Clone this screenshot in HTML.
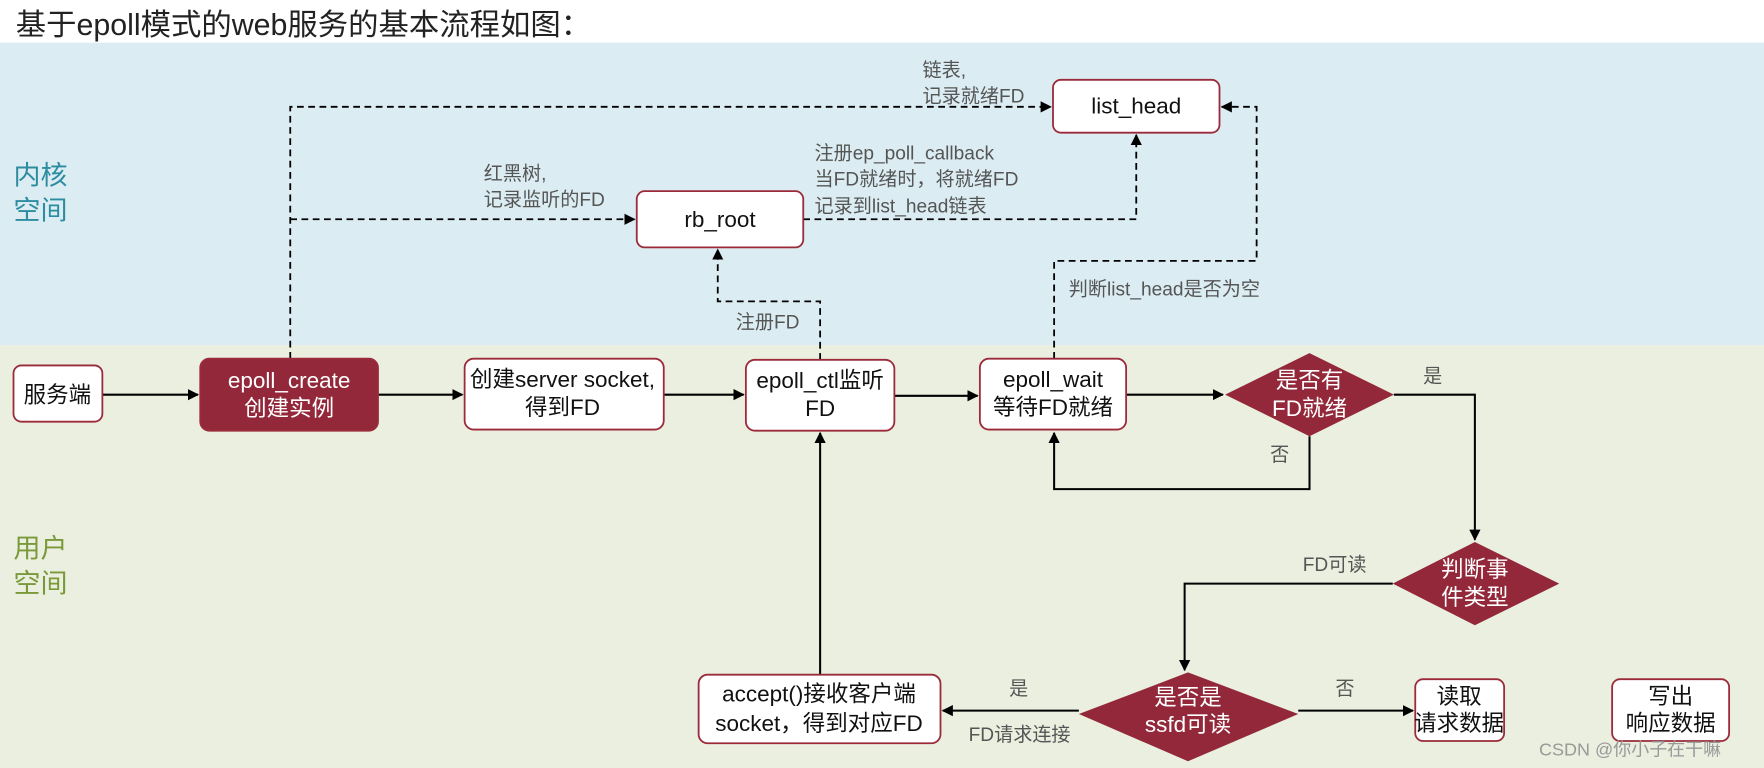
<!DOCTYPE html>
<html><head><meta charset="utf-8"><style>
html,body{margin:0;padding:0;background:#fff;}
svg{display:block;}
text{font-family:"Liberation Sans","Noto Sans CJK SC",sans-serif;}
</style></head><body>
<svg width="1764" height="768" viewBox="0 0 1568 683" preserveAspectRatio="none" xmlns="http://www.w3.org/2000/svg">
<defs>
<marker id="a" markerWidth="10" markerHeight="10" refX="9" refY="5" orient="auto" markerUnits="userSpaceOnUse"><path d="M0,0 L10,5 L0,10 z" fill="#000"/></marker>
</defs>
<rect x="0" y="0" width="1568" height="38" fill="#fff"/>
<rect x="0" y="38" width="1568" height="269" fill="#dbedf3"/>
<rect x="0" y="307" width="1568" height="376" fill="#ebefdf"/>
<text x="14" y="31" font-size="27" fill="#222">基于epoll模式的web服务的基本流程如图：</text>
<g font-size="24" fill="#2e8ca0"><text x="12" y="164">内核</text><text x="12" y="195">空间</text></g>
<g font-size="24" fill="#7a9a3a"><text x="12" y="496">用户</text><text x="12" y="527">空间</text></g>

<g fill="none" stroke="#000" stroke-width="1.6" stroke-dasharray="6,4">
<path d="M258,319 V95 H934" marker-end="url(#a)"/>
<path d="M258,195 H564" marker-end="url(#a)"/>
<path d="M714,195 H1010 V120" marker-end="url(#a)"/>
<path d="M729,320 V268 H638 V222" marker-end="url(#a)"/>
<path d="M937,319 V232 H1117 V95 H1086" marker-end="url(#a)"/>
</g>
<g fill="none" stroke="#000" stroke-width="1.8">
<path d="M91,351 H176" marker-end="url(#a)"/>
<path d="M336,351 H411" marker-end="url(#a)"/>
<path d="M590,351 H661" marker-end="url(#a)"/>
<path d="M795,352 H869" marker-end="url(#a)"/>
<path d="M1001,351 H1087" marker-end="url(#a)"/>
<path d="M1164,388 V435 H937 V385" marker-end="url(#a)"/>
<path d="M1239,351 H1311 V480" marker-end="url(#a)"/>
<path d="M1238,519 H1053 V596" marker-end="url(#a)"/>
<path d="M959,632 H838" marker-end="url(#a)"/>
<path d="M1154,632 H1256" marker-end="url(#a)"/>
<path d="M729,600 V385" marker-end="url(#a)"/>
</g>

<g stroke="#9b2a3a" stroke-width="1.6" fill="#fff">
<rect x="12" y="325" width="79" height="50" rx="7"/>
<rect x="178" y="319" width="158" height="64" rx="8" fill="#93283a"/>
<rect x="413" y="319" width="177" height="63" rx="8"/>
<rect x="663" y="320" width="132" height="63" rx="8"/>
<rect x="871" y="319" width="130" height="63" rx="8"/>
<rect x="566" y="170" width="148" height="50" rx="7"/>
<rect x="936" y="71" width="148" height="47" rx="7"/>
<rect x="621" y="600" width="215" height="61" rx="8"/>
<rect x="1258" y="604" width="79" height="55" rx="7"/>
<rect x="1433" y="604" width="104" height="55" rx="7"/>
</g>
<g fill="#93283a">
<polygon points="1089,351 1164,314 1239,351 1164,388"/>
<polygon points="1238,519 1311,482 1386,519 1311,556"/>
<polygon points="959,635 1056,598 1154,635 1056,677"/>
</g>

<g font-size="20" text-anchor="middle" fill="#111">
<text x="51" y="358">服务端</text>
<text x="257" y="345" fill="#fff">epoll_create</text><text x="257" y="370" fill="#fff">创建实例</text>
<text x="500" y="344">创建server socket,</text><text x="500" y="369">得到FD</text>
<text x="729" y="345">epoll_ctl监听</text><text x="729" y="370">FD</text>
<text x="936" y="344">epoll_wait</text><text x="936" y="369">等待FD就绪</text>
<text x="640" y="202">rb_root</text>
<text x="1010" y="101">list_head</text>
<text x="728" y="624">accept()接收客户端</text><text x="728" y="650">socket，得到对应FD</text>
<text x="1297" y="626">读取</text><text x="1297" y="650">请求数据</text>
<text x="1485" y="626">写出</text><text x="1485" y="650">响应数据</text>
<text x="1164" y="345" fill="#fff">是否有</text><text x="1164" y="370" fill="#fff">FD就绪</text>
<text x="1311" y="513" fill="#fff">判断事</text><text x="1311" y="538" fill="#fff">件类型</text>
<text x="1056" y="627" fill="#fff">是否是</text><text x="1056" y="651" fill="#fff">ssfd可读</text>
</g>

<g font-size="17" fill="#555">
<text x="820" y="68">链表,</text><text x="820" y="91">记录就绪FD</text>
<text x="430" y="160">红黑树,</text><text x="430" y="183">记录监听的FD</text>
<text x="724" y="142">注册ep_poll_callback</text><text x="724" y="165">当FD就绪时，将就绪FD</text><text x="724" y="189">记录到list_head链表</text>
<text x="654" y="292">注册FD</text>
<text x="950" y="263">判断list_head是否为空</text>
<text x="1265" y="340">是</text>
<text x="1129" y="410">否</text>
<text x="1158" y="508">FD可读</text>
<text x="897" y="618">是</text>
<text x="861" y="659">FD请求连接</text>
<text x="1187" y="618">否</text>
<text x="1368" y="672" font-size="16" fill="#999">CSDN @你小子在干嘛</text>
</g>
</svg>
</body></html>
